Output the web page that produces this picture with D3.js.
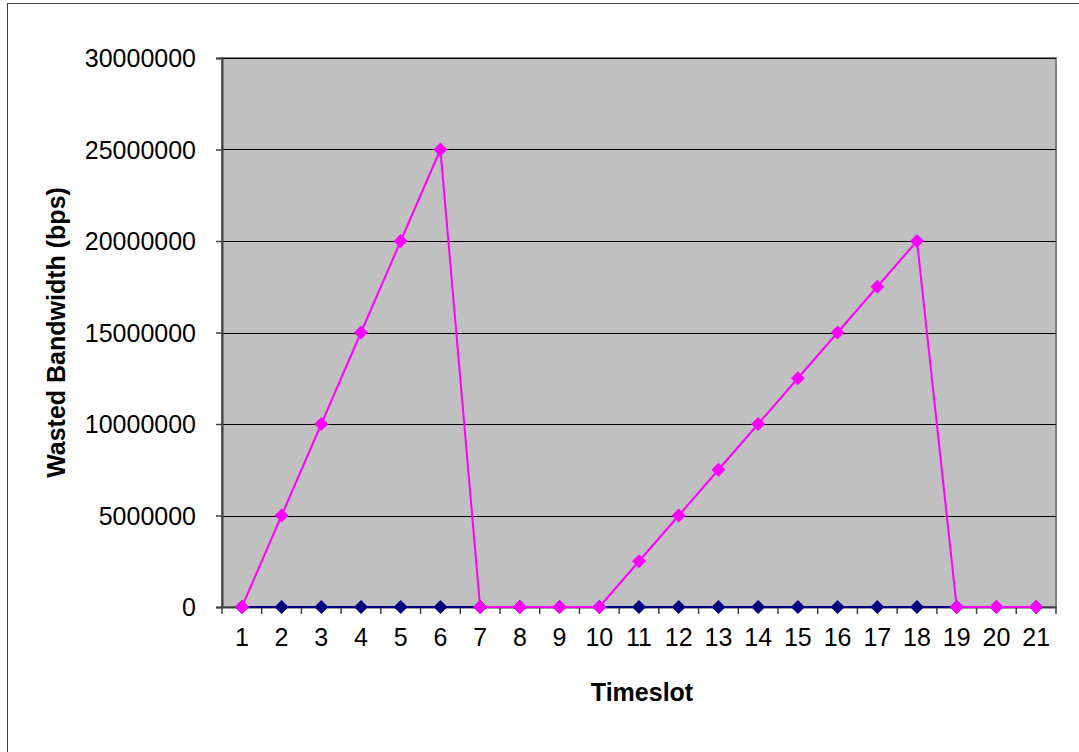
<!DOCTYPE html>
<html><head><meta charset="utf-8">
<script src="https://cdn.jsdelivr.net/npm/d3@7"></script>
<style>body{margin:0;background:#fff}svg{display:block}</style>
</head><body>
<svg id="c" width="1079" height="752"></svg>
<script>
const categories = ["1","2","3","4","5","6","7","8","9","10","11","12","13","14","15","16","17","18","19","20","21"];
const seriesNavy = [0,0,0,0,0,0,0,0,0,0,0,0,0,0,0,0,0,0,0,0,0];
const seriesMagenta = [0,5000000,10000000,15000000,20000000,25000000,0,0,0,0,2500000,5000000,7500000,10000000,12500000,15000000,17500000,20000000,0,0,0];
const yTicks = [0,5000000,10000000,15000000,20000000,25000000,30000000];
const xTitle = "Timeslot";
const yTitle = "Wasted Bandwidth (bps)";

const svg = d3.select("#c");
const L = 222, R = 1056, T = 58, B = 607;
const font = "'Liberation Sans', Arial, sans-serif";

svg.append("rect").attr("x",7.5).attr("y",3.5).attr("width",1200).attr("height",900)
  .attr("fill","#fff").attr("stroke","#404040").attr("stroke-width",1);

const x = d3.scaleBand().domain(categories).range([L,R]);
const y = d3.scaleLinear().domain([0,30000000]).range([B,T]);

svg.append("rect").attr("x",L).attr("y",T).attr("width",R-L).attr("height",B-T)
  .attr("fill","#c0c0c0").attr("stroke","#808080").attr("stroke-width",2);

svg.append("g").selectAll("line").data(yTicks.filter(d=>d>0)).join("line")
  .attr("x1",L).attr("x2",R).attr("y1",d=>Math.round(y(d))+0.5).attr("y2",d=>Math.round(y(d))+0.5)
  .attr("stroke","#000").attr("stroke-width",1);

// y axis
const ya = svg.append("g").attr("transform",`translate(${L},0)`)
  .call(d3.axisLeft(y).tickValues(yTicks).tickFormat(d3.format("d")).tickSize(6).tickPadding(20));
ya.select(".domain").attr("stroke","#404040").attr("stroke-width",2);
ya.selectAll(".tick line").attr("stroke","#404040").attr("stroke-width",1.5);
ya.selectAll("text").attr("font-family",font).attr("font-size",25).attr("fill","#000").attr("dy","0.35em");

// x axis
const xa = svg.append("g").attr("transform",`translate(0,${B})`)
  .call(d3.axisBottom(x).tickSize(0).tickPadding(30));
xa.select(".domain").attr("stroke","#404040").attr("stroke-width",2);
xa.selectAll("text").attr("font-family",font).attr("font-size",25).attr("fill","#000").attr("dy","0.35em");
const bounds = categories.map((c,i)=>x(c)).concat([R]);
xa.append("g").selectAll("line").data(bounds).join("line")
  .attr("x1",d=>d).attr("x2",d=>d).attr("y1",0).attr("y2",7)
  .attr("stroke","#404040").attr("stroke-width",1.5);

const cx = c => x(c) + x.bandwidth()/2;
function drawSeries(vals, color){
  const data = categories.map((c,i)=>({c, v: vals[i]}));
  svg.append("path").datum(data)
    .attr("d", d3.line().x(d=>cx(d.c)).y(d=>y(d.v)))
    .attr("fill","none").attr("stroke",color).attr("stroke-width",2);
  svg.append("g").selectAll("path").data(data).join("path")
    .attr("transform",d=>`translate(${cx(d.c)},${y(d.v)})`)
    .attr("d","M0,-7L7,0L0,7L-7,0Z").attr("fill",color);
}
drawSeries(seriesNavy, "#000080");
drawSeries(seriesMagenta, "#ff00ff");

svg.append("text").attr("x",(L+R)/2+3).attr("y",701).attr("text-anchor","middle")
  .attr("font-family",font).attr("font-size",25).attr("font-weight","bold").text(xTitle);
svg.append("text").attr("transform",`translate(65,${(T+B)/2}) rotate(-90)`).attr("text-anchor","middle")
  .attr("font-family",font).attr("font-size",25).attr("font-weight","bold").text(yTitle);
</script>
</body></html>
